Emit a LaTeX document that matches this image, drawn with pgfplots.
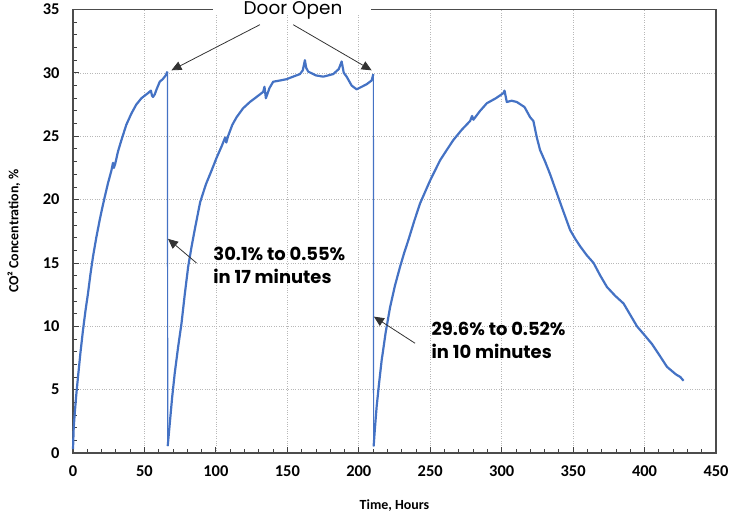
\documentclass[border=0pt]{standalone}
\usepackage{fontspec}
\setmainfont{Carlito}
\newfontfamily\gothic{Poppins}
\usepackage{pgfplots}
\pgfplotsset{compat=1.18}
\usetikzlibrary{arrows.meta}
\definecolor{lineblue}{RGB}{68,114,196}
\newcommand\tl[1]{{\bfseries\fontsize{16.5}{16.5}\selectfont #1}}

\begin{document}
\begin{tikzpicture}
\begin{axis}[
  scale only axis, width=643bp, height=443.5bp,
  xmin=0, xmax=450, ymin=0, ymax=35,
  xtick={0,50,...,450}, ytick={0,5,...,35},
  xticklabels={\tl{0},\tl{50},\tl{100},\tl{150},\tl{200},\tl{250},\tl{300},\tl{350},\tl{400},\tl{450}},
  yticklabels={\tl{0},\tl{5},\tl{10},\tl{15},\tl{20},\tl{25},\tl{30},\tl{35}},
  minor x tick num=4, minor y tick num=4,
  xtick pos=bottom, ytick pos=left, tick align=inside,
  major tick length=6bp, minor tick length=4bp,
  grid=major, grid style={dotted, black!28, line width=0.7pt},
  axis line style={black!70, line width=1.2pt},
  tick style={black!75, line width=0.8pt},
  xticklabel style={yshift=-9bp},
  yticklabel style={xshift=-10bp},
  xlabel={Time, Hours}, ylabel={CO² Concentration, \%},
  every axis x label/.style={at={(axis description cs:0.5,0)}, yshift=-53bp, anchor=center,
    font=\bfseries\fontsize{14}{14}\selectfont},
  every axis y label/.style={at={(axis description cs:0,0.5)}, xshift=-59bp, rotate=90, anchor=center,
    font=\bfseries\fontsize{14}{14}\selectfont},
  clip=false,
]
% rising parts
\addplot[lineblue, line width=2.2pt, line join=round] coordinates {
  (0,0.3) (0.5,2) (1.2,3.1) (2.3,4.6) (3.5,6.0) (5.2,7.9) (7.0,9.7) (8.7,11.2)
  (10.5,12.6) (12.2,14.1) (14.0,15.5) (16.3,17.0) (18.7,18.4) (20.4,19.3)
  (22.2,20.2) (24.5,21.3) (26.9,22.3) (28.0,22.9) (28.6,22.5) (29.5,22.8)
  (31.5,23.8) (33.9,24.7) (37.3,25.9) (40.9,26.8) (44.3,27.5) (47.9,28.0)
  (50.2,28.2) (52.5,28.4) (54.5,28.6) (55.3,28.2) (56.0,28.1) (57.2,28.3)
  (58.5,28.7) (60.7,29.3) (62.8,29.5) (64.9,29.8) (66.1,30.1)
};
\addplot[lineblue, line width=2.2pt, line join=round] coordinates {
  (66.3,0.55) (67.7,2.3) (69.4,4.4) (71.2,6.3) (73.5,8.3) (75.9,10.2) (78.2,12.5)
  (80.6,14.7) (83,16.3) (85.5,17.8) (89,19.8) (93,21.2) (97,22.3) (100.5,23.3)
  (104,24.2) (106.5,24.9) (107.3,24.5) (108.5,25.0) (111.5,25.9) (114.5,26.5)
  (119,27.2) (123.8,27.7) (128.5,28.1) (133.1,28.5) (134,28.9) (135,28.0)
  (137.5,28.8) (140.1,29.3) (145,29.4) (149.5,29.5) (154,29.7) (158.8,29.9)
  (160.8,30.2) (162.3,31.0) (163.2,30.4) (164.6,30.1) (170,29.8) (175.1,29.7)
  (182.1,29.9) (186,30.3) (188,30.9) (189.5,30.0) (191.5,29.7) (195,29.0)
  (198.5,28.7) (202,28.9) (205.5,29.1) (209,29.4) (210.2,29.9)
};
\addplot[lineblue, line width=2.2pt, line join=round] coordinates {
  (210.4,0.52) (211.2,1.8) (212.5,3.65) (214.2,5.5) (216,7.3) (218.8,9.5)
  (221.9,11.5) (225.3,13.2) (228.9,14.7) (231.8,15.8) (234.7,16.8) (238.8,18.3)
  (242.9,19.7) (246.4,20.6) (249.9,21.5) (253.4,22.3) (256.9,23.1) (261.5,23.9)
  (266.2,24.7) (272,25.5) (277.9,26.2) (279.3,26.6) (280.2,26.3) (284.9,27.0)
  (289.6,27.6) (296,28.0) (301.2,28.4) (302,28.6) (303.6,27.7) (307,27.8)
  (310.6,27.7) (316,27.3) (319.9,26.5) (322.2,26.2) (324.6,24.9) (326.9,23.9)
  (330.4,23.0) (333.9,22.0) (338,20.7) (342.1,19.4) (345,18.5) (347.9,17.6)
  (351.5,16.9) (355,16.3) (359.6,15.6) (364.3,15.0) (369,14.0) (373.7,13.1)
  (379.5,12.4) (385.3,11.8) (390,10.9) (394.7,10.0) (400,9.3) (405.2,8.6)
  (410.5,7.7) (415.7,6.8) (422,6.2) (425,6.0) (427.3,5.7)
};
% door openings
\addplot[lineblue, line width=1.2pt] coordinates {(66.1,30.1) (66.3,0.55)};
\addplot[lineblue, line width=1.2pt] coordinates {(210.2,29.9) (210.4,0.52)};
% annotations
\draw[black!80, line width=0.8pt, -{Triangle[length=10bp,width=9bp]}] (axis cs:130.8,33.8) -- (axis cs:68.9,30.2);
\draw[black!80, line width=0.8pt, -{Triangle[length=10bp,width=9bp]}] (axis cs:154.1,33.8) -- (axis cs:209.0,30.2);
\draw[black!80, line width=0.8pt, -{Triangle[length=10bp,width=9bp]}] (axis cs:86.4,15.0) -- (axis cs:66.5,16.9);
\draw[black!80, line width=0.8pt, -{Triangle[length=10bp,width=9bp]}] (axis cs:239.4,8.66) -- (axis cs:210.6,10.76);
\node[anchor=west, align=left, font=\gothic\bfseries\fontsize{18}{23}\selectfont] at (axis cs:95.8,14.8) {30.1\% to 0.55\%\\in 17 minutes};
\node[anchor=west, align=left, font=\gothic\bfseries\fontsize{18}{23}\selectfont] at (axis cs:248.5,8.9) {29.6\% to 0.52\%\\in 10 minutes};
\end{axis}
\fill[white] (140bp,438bp) rectangle (298bp,453bp);
\node[anchor=base, inner sep=0pt, font=\gothic\fontsize{18.5}{18.5}\selectfont] at (220bp,438.5bp) {Door Open};
\pgfresetboundingbox
\path[use as bounding box] (-73bp,-63bp) rectangle (656bp,453bp);
\end{tikzpicture}
\end{document}
